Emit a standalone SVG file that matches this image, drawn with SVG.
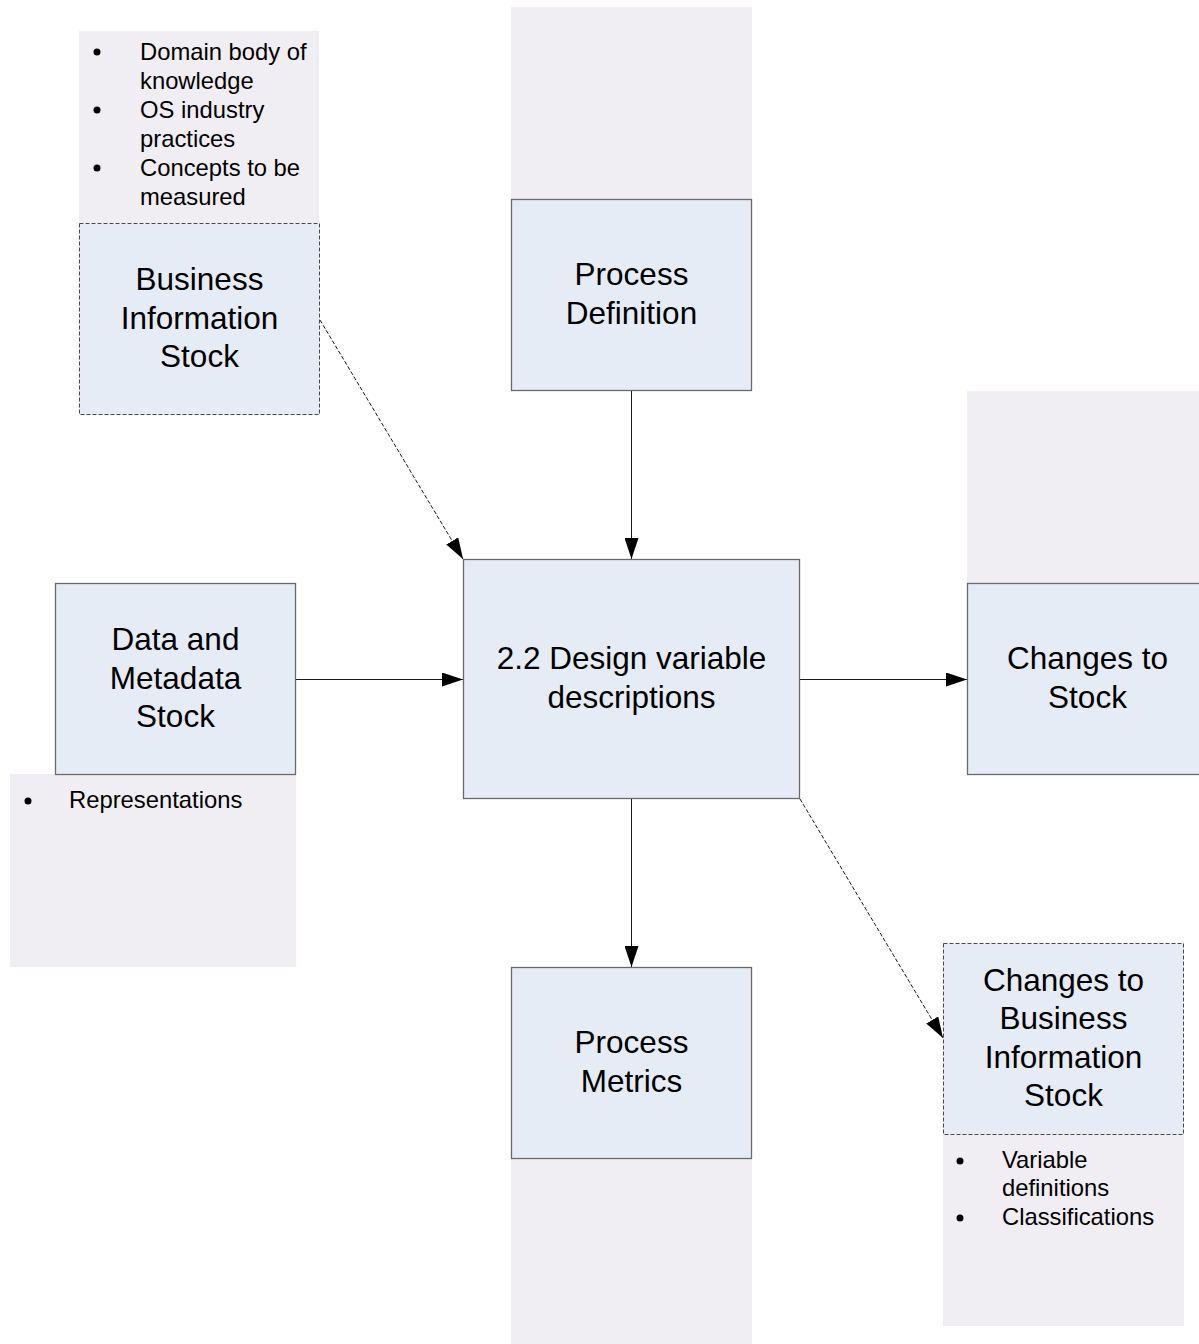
<svg xmlns="http://www.w3.org/2000/svg" width="1199" height="1344" viewBox="0 0 1199 1344">
<style>
.bg{fill:#F0EEF3;stroke:none}
.box{fill:#E6ECF6;stroke:#6A6A6A;stroke-width:1.3}
.dbox{fill:#E6ECF6;stroke:#4A4A4A;stroke-width:1;stroke-dasharray:4 2}
.t{font-family:"Liberation Sans",Arial,sans-serif;font-size:31.5px;fill:#000;text-anchor:middle}
.b{font-family:"Liberation Sans",Arial,sans-serif;font-size:23.8px;fill:#000}
.c{stroke:#1A1A1A;stroke-width:1;fill:none}
.cd{stroke:#1A1A1A;stroke-width:1;fill:none;stroke-dasharray:4 2}
</style>
<defs>
<marker id="ah" viewBox="0 0 21 14" refX="21" refY="7" markerWidth="21" markerHeight="14" markerUnits="userSpaceOnUse" orient="auto">
<path d="M0,0 L21,7 L0,14 Z" fill="#000"/>
</marker>
</defs>
<rect width="1199" height="1344" fill="#fff"/>

<g id="business-information-stock">
<rect class="bg" x="79" y="31" width="240" height="192"/>
<circle cx="97" cy="52" r="3.5" fill="#000"/>
<circle cx="97" cy="110" r="3.5" fill="#000"/>
<circle cx="97" cy="168" r="3.5" fill="#000"/>
<text class="b" x="140" y="60">Domain body of</text>
<text class="b" x="140" y="89">knowledge</text>
<text class="b" x="140" y="118">OS industry</text>
<text class="b" x="140" y="147">practices</text>
<text class="b" x="140" y="176">Concepts to be</text>
<text class="b" x="140" y="205">measured</text>
<rect class="dbox" x="79.5" y="223.5" width="240" height="191"/>
<text class="t" x="199.5" y="290">Business</text>
<text class="t" x="199.5" y="329">Information</text>
<text class="t" x="199.5" y="367">Stock</text>
</g>

<g id="process-definition">
<rect class="bg" x="511" y="7" width="241" height="192"/>
<rect class="box" x="511.5" y="199.5" width="240" height="191"/>
<text class="t" x="631.5" y="285">Process</text>
<text class="t" x="631.5" y="324">Definition</text>
</g>

<g id="changes-to-stock">
<rect class="bg" x="967" y="391" width="240" height="192"/>
<rect class="box" x="967.5" y="583.5" width="240" height="191"/>
<text class="t" x="1087.5" y="669">Changes to</text>
<text class="t" x="1087.5" y="708">Stock</text>
</g>

<g id="data-and-metadata-stock">
<rect class="bg" x="10" y="774" width="286" height="193"/>
<rect class="box" x="55.5" y="583.5" width="240" height="191"/>
<text class="t" x="175.5" y="650">Data and</text>
<text class="t" x="175.5" y="689">Metadata</text>
<text class="t" x="175.5" y="727">Stock</text>
<circle cx="28" cy="801" r="3.5" fill="#000"/>
<text class="b" x="69" y="808">Representations</text>
</g>

<g id="design-variable-descriptions">
<rect class="box" x="463.5" y="559.5" width="336" height="239"/>
<text class="t" x="631.5" y="669">2.2 Design variable</text>
<text class="t" x="631.5" y="708">descriptions</text>
</g>

<g id="process-metrics">
<rect class="bg" x="511" y="1158" width="241" height="186"/>
<rect class="box" x="511.5" y="967.5" width="240" height="191"/>
<text class="t" x="631.5" y="1053">Process</text>
<text class="t" x="631.5" y="1092">Metrics</text>
</g>

<g id="changes-to-business-information-stock">
<rect class="bg" x="943" y="1134" width="241" height="192"/>
<rect class="dbox" x="943.5" y="943.5" width="240" height="191"/>
<text class="t" x="1063.5" y="991">Changes to</text>
<text class="t" x="1063.5" y="1029">Business</text>
<text class="t" x="1063.5" y="1068">Information</text>
<text class="t" x="1063.5" y="1106">Stock</text>
<circle cx="960" cy="1161" r="3.5" fill="#000"/>
<circle cx="960" cy="1218" r="3.5" fill="#000"/>
<text class="b" x="1002" y="1168">Variable</text>
<text class="b" x="1002" y="1196">definitions</text>
<text class="b" x="1002" y="1225">Classifications</text>
</g>

<g id="connectors">
<line class="c" x1="631.5" y1="391" x2="631.5" y2="559" marker-end="url(#ah)"/>
<line class="c" x1="296" y1="679.5" x2="463" y2="679.5" marker-end="url(#ah)"/>
<line class="c" x1="800" y1="679.5" x2="967" y2="679.5" marker-end="url(#ah)"/>
<line class="c" x1="631.5" y1="799" x2="631.5" y2="967" marker-end="url(#ah)"/>
<line class="cd" x1="320" y1="320" x2="463" y2="559" marker-end="url(#ah)"/>
<line class="cd" x1="800" y1="799" x2="943" y2="1038" marker-end="url(#ah)"/>
</g>
</svg>
